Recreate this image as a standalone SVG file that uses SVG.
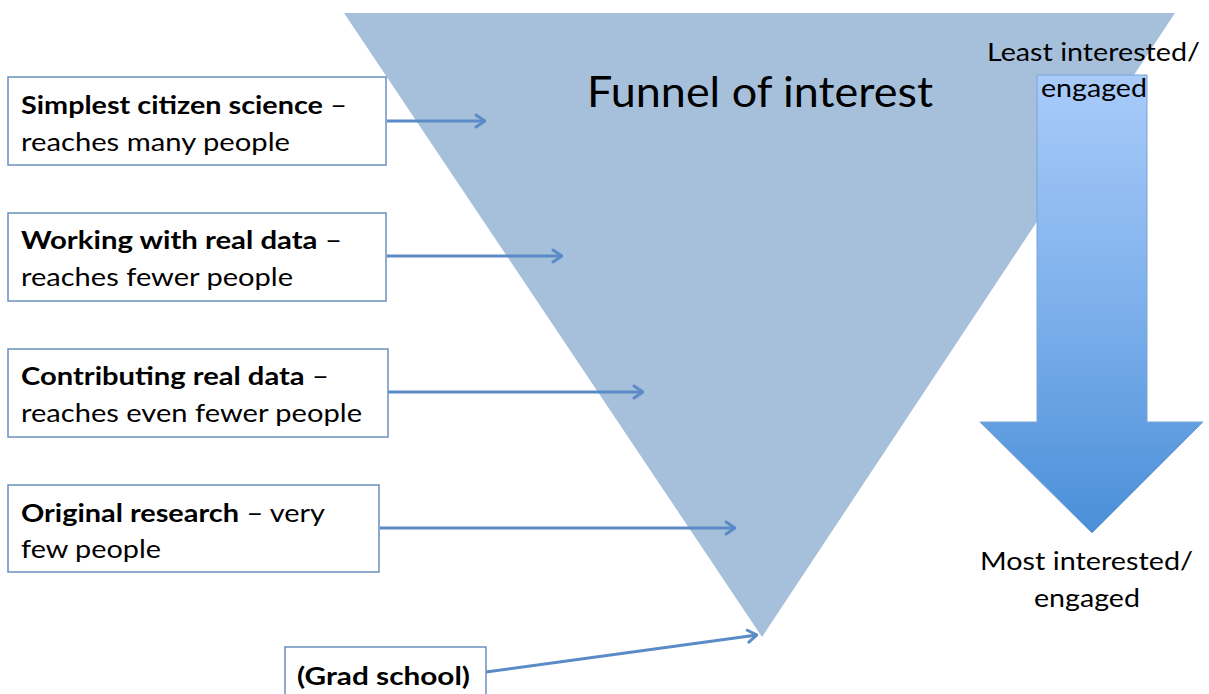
<svg xmlns="http://www.w3.org/2000/svg" width="1209" height="694" viewBox="0 0 1209 694">
<defs>
<style>
.box{fill:#ffffff;stroke:#6a8fbd;stroke-width:1.5}
.t{font-family:Lato,"Liberation Sans",sans-serif;font-size:25px;fill:#000}
.b{font-weight:bold}
.conn{stroke:#5b8bc6;stroke-width:3;fill:none;marker-end:url(#ah)}
.lbl{font-family:Lato,"Liberation Sans",sans-serif;font-size:25px;fill:#000;text-anchor:middle}
</style>
<marker id="ah" viewBox="0 0 12 16" refX="11" refY="8" markerWidth="12" markerHeight="16" markerUnits="userSpaceOnUse" orient="auto">
<path d="M2,2 L11,8 L2,14" fill="none" stroke="#5b8bc6" stroke-width="3" stroke-linecap="round" stroke-linejoin="round"/>
</marker>
<linearGradient id="ag" x1="0" y1="0" x2="0" y2="1">
<stop offset="0" stop-color="#a9cbf9"/>
<stop offset="0.5" stop-color="#7eb0ec"/>
<stop offset="1" stop-color="#4a8fd8"/>
</linearGradient>
</defs>
<rect width="1209" height="694" fill="#ffffff"/>
<g id="funnel">
<polygon points="344,13 1175,13 762,637" fill="#a6c0db"/>
<text x="587" y="107" textLength="346" lengthAdjust="spacingAndGlyphs" style="font-family:Lato,'Liberation Sans',sans-serif;font-size:43px;fill:#000">Funnel of interest</text>
</g>
<g id="scale-arrow">
<path d="M1037,75 L1147,75 L1147,422 L1203,422 L1092,533 L980,422 L1037,422 Z" fill="url(#ag)" stroke="#7aa3d6" stroke-width="1"/>
<text class="t" x="987" y="61" textLength="213" lengthAdjust="spacingAndGlyphs">Least interested/</text>
<text class="t" x="1041" y="97" textLength="106" lengthAdjust="spacingAndGlyphs">engaged</text>
<text class="t" x="980" y="570" textLength="213" lengthAdjust="spacingAndGlyphs">Most interested/</text>
<text class="t" x="1034" y="607" textLength="106" lengthAdjust="spacingAndGlyphs">engaged</text>
</g>
<g id="connectors">
<line class="conn" x1="387" y1="121" x2="485" y2="121"/>
<line class="conn" x1="387" y1="256" x2="562" y2="256"/>
<line class="conn" x1="388" y1="392" x2="643" y2="392"/>
<line class="conn" x1="380" y1="528" x2="735" y2="528"/>
<line class="conn" x1="486" y1="672" x2="757" y2="635"/>
</g>
<g id="node-simplest">
<rect class="box" x="8" y="77" width="378" height="88"/>
<text class="t" x="21" y="114" textLength="326" lengthAdjust="spacingAndGlyphs"><tspan class="b">Simplest citizen science</tspan> –</text>
<text class="t" x="21" y="151" textLength="269" lengthAdjust="spacingAndGlyphs">reaches many people</text>
</g>
<g id="node-working">
<rect class="box" x="8" y="213" width="378" height="88"/>
<text class="t" x="21" y="249" textLength="321" lengthAdjust="spacingAndGlyphs"><tspan class="b">Working with real data</tspan> –</text>
<text class="t" x="21" y="286" textLength="272" lengthAdjust="spacingAndGlyphs">reaches fewer people</text>
</g>
<g id="node-contributing">
<rect class="box" x="8" y="349" width="380" height="88"/>
<text class="t" x="21" y="385" textLength="308" lengthAdjust="spacingAndGlyphs"><tspan class="b">Contributing real data</tspan> –</text>
<text class="t" x="21" y="422" textLength="341" lengthAdjust="spacingAndGlyphs">reaches even fewer people</text>
</g>
<g id="node-original">
<rect class="box" x="8" y="485" width="371" height="87"/>
<text class="t" x="21" y="522" textLength="304" lengthAdjust="spacingAndGlyphs"><tspan class="b">Original research</tspan> – very</text>
<text class="t" x="21" y="558" textLength="140" lengthAdjust="spacingAndGlyphs">few people</text>
</g>
<g id="node-grad">
<rect class="box" x="285" y="647" width="201" height="60"/>
<text class="t b" x="297" y="685" textLength="173" lengthAdjust="spacingAndGlyphs">(Grad school)</text>
</g>
</svg>
